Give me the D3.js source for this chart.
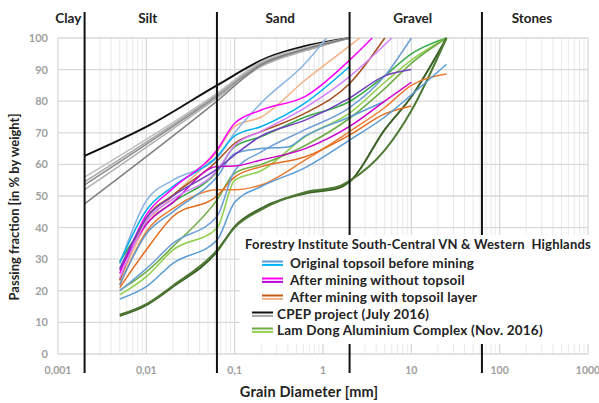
<!DOCTYPE html>
<html>
<head>
<meta charset="utf-8">
<script src="https://cdn.jsdelivr.net/npm/d3@7"></script>
<style>
  body { margin: 0; background: #fff; }
  svg { font-family: Lato, "Open Sans", sans-serif; }
</style>
</head>
<body>
<div id="chart"></div>
<script>
// soil classes, limits in mm
const zones = ['Clay', 'Silt', 'Sand', 'Gravel', 'Stones'];
const zoneLimits = [0.001, 0.002, 0.063, 2, 63, 1000];

const xTicks = [0.001, 0.01, 0.1, 1, 10, 100, 1000];
const xTickLabels = ['0,001', '0,01', '0,1', '1', '10', '100', '1000'];
const yTicks = [0, 10, 20, 30, 40, 50, 60, 70, 80, 90, 100];

// curves as [diameter mm, passing %]
const origTopsoil = [
  [[0.005,28.5],[0.01,48.5],[0.02,55],[0.063,62],[0.1,70],[0.2,79.5],[0.63,92],[1.1,100]],
  [[0.005,29],[0.01,45.5],[0.02,53],[0.063,62.5],[0.1,69],[0.2,72],[0.63,79.5],[2,91]],
  [[0.005,22],[0.01,38],[0.02,45],[0.063,56],[0.1,63.5],[0.2,65],[0.4,65.5],[0.63,69],[2,75],[5,80]],
  [[0.005,17.4],[0.01,21.3],[0.02,28.7],[0.063,36],[0.1,48],[0.2,53],[0.63,59],[2,67.7],[5,75],[10,82],[25,91.7]],
  [[0.005,20],[0.01,27],[0.02,35],[0.063,43.5],[0.1,58],[0.2,64],[0.63,71],[2,78],[5,88],[10,100]]
];
const origColors = ['#8db4e2', '#00b0f0', '#5b9bd5', '#5b9bd5', '#6f9fd8'];

const minedNoTopsoil = [
  [[0.005,25.5],[0.01,44],[0.02,52.4],[0.063,64.5],[0.1,73],[0.2,77.2],[0.63,81.5],[2,93],[3.6,100]],
  [[0.005,26.5],[0.01,41],[0.02,48],[0.063,59.3],[0.1,59.5],[0.2,61.4],[0.63,65],[2,72],[5,80],[10,86]],
  [[0.005,24],[0.01,42],[0.02,49],[0.063,58],[0.1,66],[0.2,70.5],[0.63,78],[2,87.8],[6,100]],
  [[0.005,27],[0.01,43],[0.02,50],[0.063,58.5],[0.1,63],[0.2,69],[0.63,74],[2,81],[5,88],[10,90]]
];
const minedNoColors = ['#ff00ff', '#cc00cc', '#d580ff', '#7040c0'];

const minedTopsoil = [
  [[0.005,23],[0.01,41],[0.02,50],[0.063,64],[0.1,72],[0.2,75],[0.63,86.7],[2,97.5],[2.6,100]],
  [[0.005,23.4],[0.01,43],[0.02,50.3],[0.063,61],[0.1,66.7],[0.2,70.4],[0.63,76.2],[2,85.6],[5,100]],
  [[0.005,21.8],[0.01,38.7],[0.02,46],[0.063,52],[0.1,52],[0.2,53.5],[0.63,61.4],[2,70.4],[5,78],[10,85],[25,88.6]],
  [[0.005,21],[0.01,33],[0.02,43.5],[0.063,50],[0.1,56],[0.2,59.3],[0.63,62.4],[2,69.3],[5,76],[10,78.5]]
];
const minedTopColors = ['#f4b183', '#a5501c', '#ed7d31', '#e46c1e'];

const cpep = [
  [[0.002,62.7],[0.011,72.5],[0.063,85],[0.23,93.7],[0.6,97.3],[2,100]],
  [[0.002,56],[0.063,82.5],[0.2,92.5],[0.63,97],[2,100]],
  [[0.002,54.5],[0.063,82],[0.2,92],[0.63,96.5],[2,100]],
  [[0.002,53.5],[0.063,81.5],[0.2,91.5],[0.63,96],[2,100]],
  [[0.002,52],[0.063,81],[0.2,91],[0.63,96],[2,100]],
  [[0.002,47.5],[0.063,80],[0.2,91.5],[0.63,96.5],[2,100]]
];
const cpepColors = ['#111111', '#bfbfbf', '#a6a6a6', '#8c8c8c', '#b0b0b0', '#7f7f7f'];

const lamDong = [
  [[0.005,29.2],[0.01,41.4],[0.02,48],[0.063,57.7],[0.1,65.6],[0.2,68.8],[0.63,75],[2,79.9],[5,88],[10,95],[25,100]],
  [[0.005,18.7],[0.01,24.5],[0.02,32.9],[0.063,39.8],[0.1,55],[0.2,58],[0.63,68.8],[2,76.2],[5,86],[10,93],[25,100]],
  [[0.005,20.2],[0.01,26],[0.02,34],[0.063,48.7],[0.1,57.2],[0.2,60],[0.63,66],[2,74.6],[5,84],[10,92],[25,100]],
  [[0.005,12.1],[0.01,15.5],[0.02,21.3],[0.063,32.4],[0.1,40.3],[0.2,46.1],[0.63,50.8],[1.5,52.5],[2,54.5],[5,71],[10,81.4],[25,100]],
  [[0.005,12.4],[0.01,15.8],[0.02,21.6],[0.063,32.8],[0.1,40],[0.2,45.7],[0.63,51.2],[1.5,53],[2,54.8],[5,64.5],[10,77],[25,100]]
];
const lamDongColors = ['#3cab4a', '#92d050', '#70ad47', '#3a5f24', '#4e7a34'];

const legendTitle = 'Forestry Institute South-Central VN & Western  Highlands';
const legendItems = ['Original topsoil before mining', 'After mining without topsoil',
  'After mining with topsoil layer', 'CPEP project (July 2016)', 'Lam Dong Aluminium Complex (Nov. 2016)'];
const legendColors = [['#5b9bd5', '#00b0f0'], ['#ff00ff', '#c000e0'], ['#c55a11', '#f4b183'],
  ['#111111', '#a6a6a6'], ['#70ad47', '#92d050']];

class GrainChart {

  width; height;
  svg; gridGroup; curveGroup; frameGroup; legendGroup;
  x; y; lineGen;

  constructor(container, width, height){
    this.width = width;
    this.height = height;

    this.svg = d3.select(container).append('svg')
      .attr('width', width)
      .attr('height', height);
    this.gridGroup = this.svg.append('g');
    this.curveGroup = this.svg.append('g');
    this.frameGroup = this.svg.append('g');
    this.legendGroup = this.svg.append('g');

    this.x = d3.scaleLog().domain([0.001, 1000]).range([58, 588]);
    this.y = d3.scaleLinear().domain([0, 100]).range([354, 38]);
    this.lineGen = d3.line()
      .x(d => this.x(d[0]))
      .y(d => this.y(d[1]))
      .curve(d3.curveMonotoneX);

    this.#renderGrid();
    this.#renderAxes();
  }

  #renderGrid(){
    // minor + major log gridlines
    const minor = [];
    for (let e = -3; e < 3; e++) for (let m = 2; m < 10; m++) minor.push(m * Math.pow(10, e));
    this.gridGroup.selectAll('line.minor')
      .data(minor)
      .join('line')
      .attr('x1', d => this.x(d)).attr('x2', d => this.x(d))
      .attr('y1', this.y(100)).attr('y2', this.y(0))
      .attr('stroke', '#e6e6e6').attr('stroke-width', 0.9);
    this.gridGroup.selectAll('line.major')
      .data(xTicks)
      .join('line')
      .attr('x1', d => this.x(d)).attr('x2', d => this.x(d))
      .attr('y1', this.y(100)).attr('y2', this.y(0))
      .attr('stroke', '#d9d9d9').attr('stroke-width', 1.3);
    this.gridGroup.selectAll('line.h')
      .data(yTicks)
      .join('line')
      .attr('x1', this.x.range()[0]).attr('x2', this.x.range()[1])
      .attr('y1', d => this.y(d)).attr('y2', d => this.y(d))
      .attr('stroke', '#d9d9d9').attr('stroke-width', 1.3);
  }

  #renderAxes(){
    const g = this.frameGroup;
    g.selectAll('text.ytick')
      .data(yTicks)
      .join('text')
      .attr('x', 48).attr('y', d => this.y(d) + 4)
      .attr('text-anchor', 'end')
      .attr('font-size', 11).attr('font-weight', 'bold').attr('fill', '#a0a0a0')
      .text(d => d);
    g.selectAll('text.xtick')
      .data(xTicks)
      .join('text')
      .attr('x', d => this.x(d)).attr('y', 374)
      .attr('text-anchor', 'middle')
      .attr('font-size', 10.5).attr('font-weight', 'bold').attr('fill', '#a0a0a0')
      .text((d, i) => xTickLabels[i]);

    g.append('text')
      .attr('transform', 'translate(19,207) rotate(-90)')
      .attr('text-anchor', 'middle')
      .attr('font-size', 13).attr('font-weight', 'bold').attr('fill', '#222')
      .text('Passing fraction [in % by weight]');
    g.append('text')
      .attr('x', 309).attr('y', 397)
      .attr('text-anchor', 'middle')
      .attr('font-size', 14.5).attr('font-weight', 'bold').attr('fill', '#222')
      .attr('letter-spacing', 0.2)
      .text('Grain Diameter [mm]');
  }

  renderZones(){
    const g = this.frameGroup;
    g.selectAll('line.zone')
      .data(zoneLimits.slice(1, -1))
      .join('line')
      .attr('x1', d => this.x(d)).attr('x2', d => this.x(d))
      .attr('y1', 12).attr('y2', 373)
      .attr('stroke', '#111').attr('stroke-width', 2);
    g.selectAll('text.zone')
      .data(zones)
      .join('text')
      .attr('x', (d, i) => this.x(Math.sqrt(zoneLimits[i] * zoneLimits[i + 1])) - 3)
      .attr('y', 23)
      .attr('text-anchor', 'middle')
      .attr('font-size', 13.5).attr('font-weight', 'bold').attr('fill', '#222')
      .text(d => d);
    return this;
  }

  renderCurves(curves, colors, width = 1.5){
    this.curveGroup.append('g')
      .selectAll('path')
      .data(curves)
      .join('path')
      .attr('d', this.lineGen)
      .attr('fill', 'none')
      .attr('stroke', (d, i) => colors[i])
      .attr('stroke-width', (d, i) => typeof width === 'function' ? width(i) : width);
    return this;
  }

  renderLegend(){
    const g = this.legendGroup;
    g.append('rect')
      .attr('x', 240).attr('y', 235).attr('width', 352).attr('height', 109)
      .attr('fill', '#fff');
    g.append('text')
      .attr('x', 245).attr('y', 249)
      .attr('font-size', 13).attr('font-weight', 'bold').attr('fill', '#222')
      .attr('letter-spacing', 0.2)
      .style('white-space', 'pre')
      .text(legendTitle);

    const rowY = [263, 280, 297, 314, 330];
    const rows = g.selectAll('g.item')
      .data(legendItems)
      .join('g')
      .attr('transform', (d, i) => `translate(${i < 3 ? 262 : 252},${rowY[i]})`);
    rows.selectAll('line')
      .data((d, i) => legendColors[i])
      .join('line')
      .attr('x1', 0).attr('x2', 21)
      .attr('y1', (d, j) => j * 3.4 - 1.5).attr('y2', (d, j) => j * 3.4 - 1.5)
      .attr('stroke', d => d).attr('stroke-width', 2);
    rows.append('text')
      .attr('x', (d, i) => i < 3 ? 28 : 25).attr('y', 4.5)
      .attr('font-size', 13.5).attr('font-weight', 'bold').attr('fill', '#222')
      .attr('letter-spacing', 0.2)
      .text(d => d);
    return this;
  }
}

const chart = new GrainChart('#chart', 599, 403);
chart
  .renderCurves(cpep, cpepColors, i => i === 0 ? 2 : 1.5)
  .renderCurves(lamDong, lamDongColors, i => i >= 3 ? 2 : 1.6)
  .renderCurves(minedTopsoil, minedTopColors)
  .renderCurves(origTopsoil, origColors)
  .renderCurves(minedNoTopsoil, minedNoColors)
  .renderZones()
  .renderLegend();
</script>
</body>
</html>
